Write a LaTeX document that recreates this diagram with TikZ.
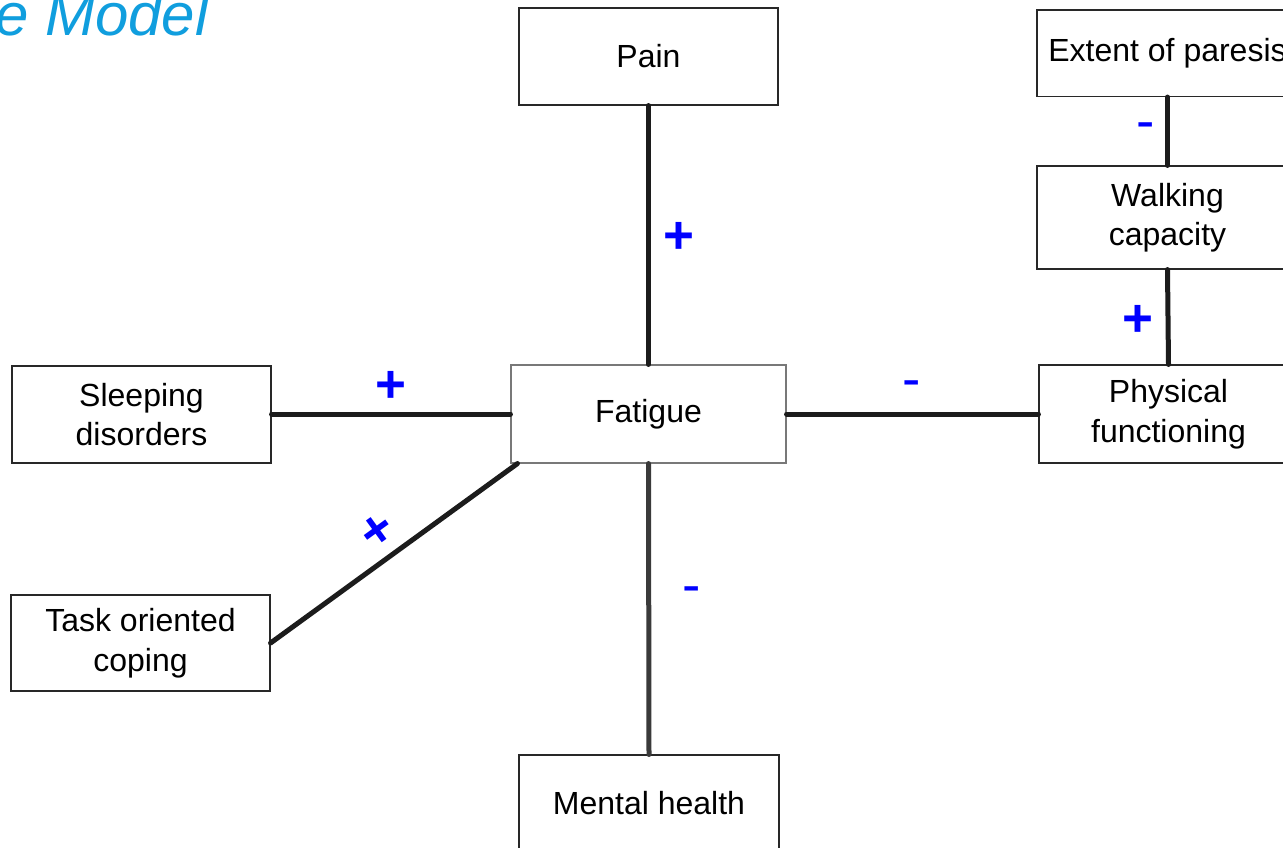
\documentclass[tikz,border=0pt]{standalone}
\usepackage{fontspec}
\setmainfont{Liberation Sans}
\usetikzlibrary{calc}
\definecolor{titleblue}{RGB}{16,158,222}
\definecolor{conn}{RGB}{28,28,28}
\definecolor{conngray}{RGB}{58,58,58}
\definecolor{boxline}{RGB}{40,40,40}
\definecolor{boxgray}{RGB}{120,120,120}
\definecolor{signblue}{RGB}{0,0,255}
\begin{document}
\begin{tikzpicture}[x=1pt,y=-1pt,
  box/.style={draw=boxline, line width=1.1pt, inner sep=0pt, align=center,
    font=\fontsize{32}{39.5}\selectfont, minimum width=259pt, minimum height=97pt},
  link/.style={draw=conn, line width=5pt, line cap=round},
  plussign/.style={text=signblue, inner sep=0pt, font=\fontsize{53}{53}\selectfont\bfseries,
    text height=37.4pt, text depth=0pt},
  minussign/.style={text=signblue, inner sep=0pt, font=\fontsize{55}{55}\selectfont,
    text height=29.2pt, text depth=0pt}
]
\useasboundingbox (0,0) rectangle (1283,847);
\clip (0,0) rectangle (1283,847);
\fill[white] (0,0) rectangle (1283,847);

% title
\node[anchor=base west, inner sep=0pt, text=titleblue,
  font=\fontsize{60}{60}\selectfont\itshape] (title) at (-5,35) {e Model};

% boxes
\node[box] (pain) at (648.5,56.5) {Pain};
\node[box, minimum width=261pt, minimum height=86.5pt] (paresis) at (1167.5,53.25) {Extent of paresis};
\node[box, minimum width=261pt, minimum height=103pt] (walking) at (1167.5,217.5) {Walking\\capacity};
\node[box, minimum height=98pt] (physical) at (1168.5,414) {Physical\\functioning};
\node[box, draw=boxgray, minimum width=275pt, minimum height=98pt] (fatigue) at (648.5,414) {Fatigue};
\node[box] (sleeping) at (141.5,414.5) {Sleeping\\disorders};
\node[box, minimum height=96pt] (task) at (140.5,643) {Task oriented\\coping};
\node[box, minimum width=260pt] (mental) at (649,803.5) {Mental health};

% connectors
\draw[link] (pain.south) -- (fatigue.north);
\draw[link] (sleeping.east |- fatigue.west) -- (fatigue.west);
\draw[link] (fatigue.east) -- (physical.west);
\draw[link, draw=conngray] (fatigue.south) -- (mental.north);
\draw[link] ($(fatigue.south west)+(7,0)$) -- (task.east);
\draw[link] (paresis.south) -- (walking.north);
\draw[link] (walking.south) -- (physical.north);

% signs
\node[plussign] (s1) at (679,235) {+};
\node[plussign] (s2) at (391,384) {+};
\node[minussign] (s3) at (912,383) {-};
\node[minussign] (s4) at (692,589) {-};
\node[plussign, rotate=36] (s5) at (376,529) {+};
\node[minussign] (s6) at (1146,125) {-};
\node[plussign] (s7) at (1138,318) {+};
\end{tikzpicture}
\end{document}
